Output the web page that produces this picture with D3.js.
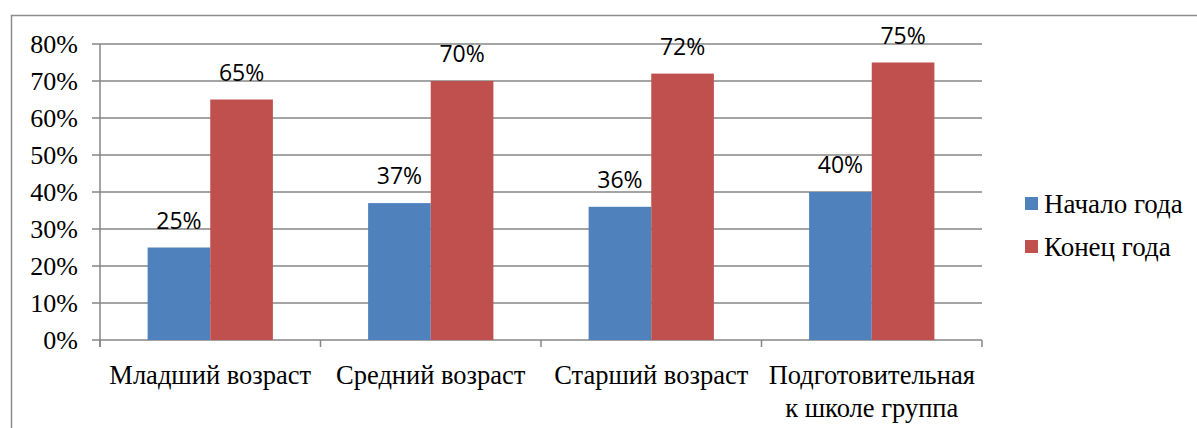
<!DOCTYPE html>
<html><head><meta charset="utf-8">
<script src="https://cdn.jsdelivr.net/npm/d3@7"></script>
<style>body{margin:0;background:#fff}svg{display:block}
.serif{font-family:"Liberation Serif","Times New Roman",Tinos,"DejaVu Serif",serif}
.sans{font-family:"Open Sans","Liberation Sans",sans-serif}
</style>
</head><body>
<script>
const categories = [["Младший возраст"],["Средний возраст"],["Старший возраст"],["Подготовительная","к школе группа"]];
const seriesNames = ["Начало года","Конец года"];
const startValues = [25,37,36,40];
const endValues = [65,70,72,75];
const yTicks = [0,10,20,30,40,50,60,70,80];
const colors = ["#4f81bd","#c0504d"];

(function(){
const W=1197,H=428;
const svg=d3.select("body").append("svg").attr("width",W).attr("height",H);
svg.append("rect").attr("x",11.5).attr("y",15.5).attr("width",1300).attr("height",500)
  .attr("fill","none").attr("stroke","#8c8c8c").attr("stroke-width",1.5);

const pLeft=100,pRight=982,pTop=44,pBottom=340;
const x=d3.scaleBand().domain(d3.range(categories.length)).range([pLeft,pRight]).paddingInner(0).paddingOuter(0);
const xs=d3.scaleBand().domain([0,1]).range([0,x.bandwidth()]).paddingInner(0).paddingOuter(0.76);
const y=d3.scaleLinear().domain([0,80]).range([pBottom,pTop]);

svg.append("g").selectAll("line").data(yTicks).join("line")
  .attr("x1",pLeft-8).attr("x2",pRight).attr("y1",d=>y(d)).attr("y2",d=>y(d))
  .attr("stroke","#868686").attr("stroke-width",1.5);
svg.append("g").selectAll("text").data(yTicks).join("text").attr("class","serif")
  .attr("x",78).attr("y",d=>y(d)).attr("dy","0.35em").attr("text-anchor","end")
  .attr("font-size",26).text(d=>d+"%");
svg.append("line").attr("x1",pLeft).attr("x2",pLeft).attr("y1",pTop).attr("y2",pBottom+7)
  .attr("stroke","#868686").attr("stroke-width",1.5);
svg.append("g").selectAll("line").data(d3.range(categories.length+1)).join("line")
  .attr("x1",d=>pLeft+d*x.bandwidth()).attr("x2",d=>pLeft+d*x.bandwidth())
  .attr("y1",pBottom).attr("y2",pBottom+7).attr("stroke","#868686").attr("stroke-width",1.5);

const data=[startValues,endValues];
const g=svg.append("g");
data.forEach((vals,si)=>{
  g.selectAll(".b"+si).data(vals).join("rect").attr("class","b"+si)
    .attr("x",(d,i)=>x(i)+xs(si)).attr("width",xs.bandwidth())
    .attr("y",d=>y(d)).attr("height",d=>pBottom-y(d)).attr("fill",colors[si]);
  g.selectAll(".t"+si).data(vals).join("text").attr("class","t"+si+" sans")
    .attr("x",(d,i)=>x(i)+xs(si)+xs.bandwidth()/2).attr("y",d=>y(d)-19)
    .attr("text-anchor","middle").attr("font-size",23)
    .text(d=>d+"%");
});
categories.forEach((lines,i)=>{
  const t=svg.append("text").attr("class","serif").attr("x",x(i)+x.bandwidth()/2).attr("y",384)
    .attr("text-anchor","middle").attr("font-size",26.5);
  lines.forEach((l,j)=>t.append("tspan").attr("x",x(i)+x.bandwidth()/2).attr("dy",j?33:0).text(l));
});
seriesNames.forEach((n,i)=>{
  const ly=204+i*43;
  svg.append("rect").attr("x",1025).attr("y",ly-7).attr("width",13).attr("height",13).attr("fill",colors[i]);
  svg.append("text").attr("class","serif").attr("x",1044).attr("y",ly).attr("dy","0.35em")
    .attr("font-size",27).text(n);
});
})();
</script>
</body></html>
